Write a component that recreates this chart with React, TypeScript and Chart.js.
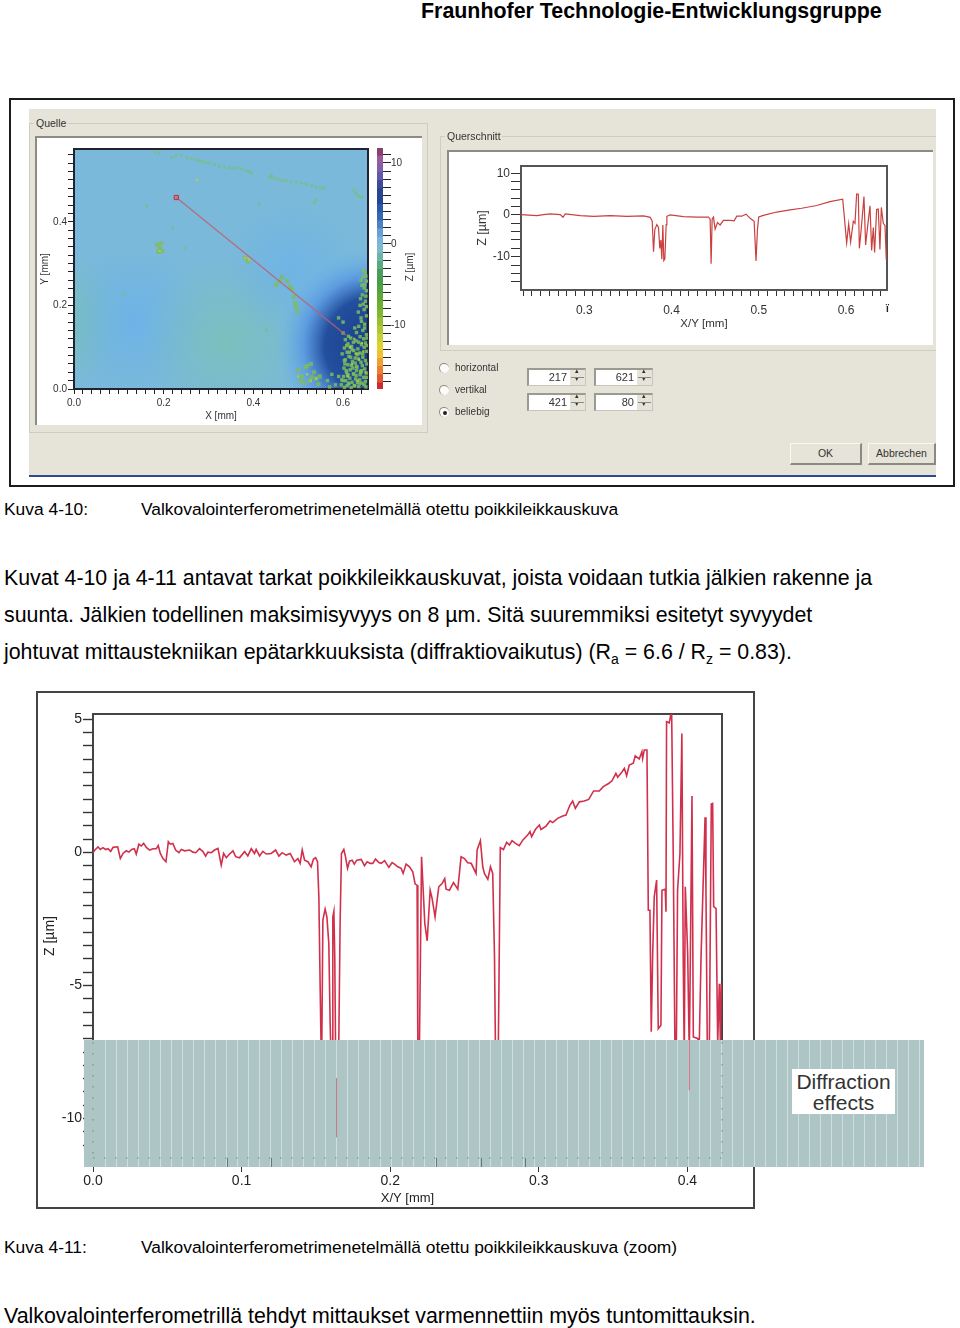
import React, { useEffect, useRef } from "react";
import { Chart, registerables } from "chart.js";

Chart.register(...registerables);

// Zoomed cross-section (Kuva 4-11)
const profileX = [0,.0016,.0034,.0049,.0067,.0085,.0101,.0119,.0135,.0166,.0184,.0202,.0224,.0242,.026,.0278,.0291,.0309,.0325,.0341,.0359,.0381,.0404,.0426,.0439,.0453,.0471,.0491,.0507,.052,.0538,.0556,.0578,.0594,.0617,.065,.0673,.0691,.0717,.074,.0758,.0773,.0796,.0818,.0841,.0863,.0879,.0897,.0919,.0942,.096,.0986,.102,.1042,.1065,.1087,.1098,.1121,.1143,.1166,.1199,.1229,.1251,.1273,.13,.1327,.1356,.1379,.1394,.1408,.1424,.1446,.1468,.1484,.1498,.1511,.152,.1529,.1538,.1547,.1562,.1574,.1587,.1596,.1603,.161,.1614,.1621,.1627,.1632,.1637,.1654,.1663,.1672,.1688,.1699,.1713,.1726,.1744,.1758,.1775,.1805,.1827,.1845,.1865,.1883,.1901,.1924,.1939,.1962,.1991,.2013,.2029,.2051,.2074,.2087,.2107,.213,.2152,.2168,.2181,.2186,.219,.2197,.2211,.222,.2233,.2249,.2269,.2282,.2302,.2327,.2349,.2367,.2376,.2399,.2426,.2455,.2477,.25,.2522,.2545,.2578,.2585,.2607,.2623,.2634,.2657,.2675,.269,.2702,.2708,.2717,.2728,.2741,.2762,.2784,.2802,.282,.2843,.2869,.2892,.2925,.2941,.2952,.2977,.3004,.3015,.3049,.3076,.3094,.3127,.3161,.3183,.321,.3228,.3246,.3273,.3306,.3336,.3369,.3407,.3434,.347,.3493,.3519,.3531,.3553,.3576,.3591,.3609,.3636,.3649,.3676,.3694,.3699,.371,.3728,.3737,.3748,.3757,.3766,.3777,.3793,.3804,.3822,.3829,.3851,.3856,.386,.3878,.3894,.3905,.3916,.3923,.3927,.3934,.395,.3963,.3972,.3979,.3986,.4002,.4013,.402,.4031,.404,.4069,.408,.4092,.4119,.4125,.4134,.4148,.4161,.417,.4177,.4193,.4204,.4215,.4222,.4228];
const profileZ = [0,.11,.21,.11,.18,.11,.14,.04,.19,.21,-.23,-.04,.06,.01,.11,.14,-.06,.31,.24,.34,.19,.09,.14,.14,.26,-.04,-.23,-.35,.4,.31,.34,.09,-.01,.11,.06,.09,.01,-.01,.14,.03,-.14,.01,-.01,.09,.15,-.48,-.04,-.2,-.06,.06,-.16,-.2,.03,-.13,.14,-.04,.11,-.13,.04,-.06,-.04,.09,-.14,-.01,-.1,-.04,-.35,-.23,-.41,.09,-.29,-.35,-.54,-.25,-.2,-.35,-1.67,-5.17,-8.4,-2.54,-2.13,-2.42,-3.42,-6.43,-8,-8,-2.42,-2.21,-3.92,-7.18,-10.7,-7.18,-2.67,-.04,.11,-.16,-.6,-.33,-.29,-.44,-.29,-.26,-.5,-.35,-.41,-.41,-.25,-.38,-.41,-.31,-.56,-.38,-.44,-.54,-.6,-.79,-.44,-.54,-.73,-1.19,-1.23,-7.18,-10,-7.18,-.16,-1.17,-2.67,-3.32,-1.42,-1.73,-2.42,-1.29,-1.17,-.98,-1.38,-1.42,-1.13,-1.38,-.16,-.23,-.39,-.41,-.79,.09,.44,-.54,-.79,-1.01,-.54,-.79,-3.92,-7.18,-10,-7.18,.18,.11,.38,.28,.44,.34,.25,.46,.65,.78,.59,.86,1.03,.86,.99,1.19,1.12,1.28,1.37,1.4,1.78,1.93,1.65,1.9,1.93,1.99,2.31,2.31,2.47,2.59,2.69,2.97,2.82,2.97,3.16,2.88,3.28,3.35,3.63,3.51,3.78,3.53,3.85,3.85,-2.17,-2.17,-6.74,-3.92,-1.67,-1.04,-6.62,-6.49,-1.42,-1.38,-2.23,4.91,4.87,5.35,-.16,-7.18,-8.5,-6.43,-1.42,-.04,4.47,-3.92,-7.7,-1.29,-3.8,-7.6,-3.92,2.12,-6.93,-6.99,-7.18,-3.92,1.32,-1.42,-7.18,-7.18,1.82,1.84,-2.04,-2.11,-7.18,-4.93,-7.18,-4.93];
// Parts of the trace that show faintly through the shaded band
const ghostX = [.1639,.1639,.3,.4013,.4013];
const ghostZ = [-8.48,-10.7,null,-7.05,-8.93];
const mainTickX = [0, .1, .2, .3, .4];

// Small cross-section (Kuva 4-10, Querschnitt)
const sectionX = [.2275,.2458,.2534,.2611,.2725,.2756,.2782,.2954,.3107,.3298,.3489,.3679,.3756,.3779,.3794,.3809,.3832,.3851,.3866,.3878,.3889,.3901,.3912,.3924,.3939,.3947,.3985,.4137,.429,.4424,.4443,.4454,.4466,.4481,.45,.4527,.4557,.4595,.4672,.4718,.4748,.4805,.4855,.4901,.4947,.4969,.4985,.5,.5053,.5206,.5359,.5492,.5664,.5817,.5962,.5981,.6,.6008,.6031,.6053,.6084,.6103,.6122,.6141,.6153,.6172,.6206,.6225,.6244,.6275,.6294,.6313,.6328,.6351,.637,.6389,.6405,.6427,.6447,.6462];
const sectionZ = [.08,-.16,.08,.24,.08,-.56,.24,-.16,-.32,-.16,-.32,-.24,-.56,-1.5,-8.8,-3.5,-2.3,-3,-8,-6,-10.6,-2.4,-10.9,-10.5,-2.3,-.32,0,-.4,-.5,-.5,-1,-11.7,-1,-.5,-3.4,-1.8,-2.4,-1.3,-1.3,-1.4,-.3,-.3,.2,-.8,-1.5,-11,-3.5,-.5,-.1,.7,1.2,1.6,2.26,3.2,3.8,-.4,-5,-6.7,-2.1,-6.5,-1.5,-2,5,5,-8,-4,4.4,-7.2,-3.5,2.2,-8.5,-3,-9,1.3,1.4,-8.3,1.8,-2,-2.5,-10.7];

// Surface map (Quelle): the measured line and the specks visible on it
const cutX = [.2282, .606];
const cutY = [.458, .129];
const streakX = [.18,.19,.218,.228,.24,.253,.263,.273,.28,.287,.295,.302,.313,.324,.335,.347,.355,.364,.374,.384,.39,.396,.436,.44,.442,.45,.458,.465,.473,.485,.496,.507,.518,.53,.54,.55,.558,.624,.628,.631,.637,.642,.536,.54,.413,.162,.109,.22,.247,.429];
const streakY = [.567,.565,.555,.558,.56,.553,.55,.548,.546,.543,.541,.541,.537,.533,.531,.529,.528,.529,.526,.522,.52,.517,.507,.512,.505,.503,.5,.499,.498,.496,.495,.492,.49,.486,.483,.482,.481,.476,.47,.464,.46,.459,.445,.452,.443,.438,.227,.385,.337,.141];
const blobX = [.191,.185,.197,.188,.194,.382,.388,.451,.458,.464,.475,.482,.487,.496,.49,.493,.498,.5,.508,.516,.525,.535,.545,.512,.53,.52,.505,.54,.528,.548];
const blobY = [.337,.345,.33,.328,.348,.313,.305,.249,.258,.268,.258,.245,.237,.196,.22,.205,.185,.045,.03,.052,.02,.04,.012,.015,.028,.055,.02,.025,.06,.03];
const massX = [.6,.59,.565,.575,.583,.59,.57,.645,.651,.64,.648,.652,.643,.65,.638,.647,.652,.64,.648,.635,.644,.652,.63,.638,.605,.617,.629,.646,.611,.623,.641,.65,.603,.619,.633,.647,.609,.624,.637,.652,.613,.631,.644,.605,.621,.634,.65,.611,.627,.643,.602,.616,.631,.648,.608,.623,.639,.652,.601,.615,.629,.646,.606,.62,.637,.65,.612,.625,.642,.603,.618,.635,.651,.649,.644,.652,.642,.647,.651,.639,.645,.652,.634,.641,.648,.653,.626,.635,.612,.6,.608,.62,.633,.653,.598,.614,.627,.64,.604,.617,.63,.644,.61,.622,.636,.653,.6,.613,.628,.641,.596,.607,.624,.638,.652,.609,.619,.632,.647,.597,.611,.626,.64,.603,.616,.63];
const massY = [.16,.17,.02,.035,.01,.03,.005,.285,.27,.26,.25,.235,.225,.21,.2,.19,.175,.17,.155,.15,.14,.13,.135,.125,.118,.122,.115,.12,.108,.112,.106,.11,.098,.102,.096,.1,.088,.092,.086,.09,.078,.082,.076,.07,.066,.072,.068,.058,.062,.056,.05,.046,.052,.048,.04,.036,.042,.038,.03,.026,.032,.028,.02,.016,.022,.018,.012,.008,.014,.004,.003,.006,.005,.278,.268,.258,.248,.242,.222,.216,.203,.197,.184,.162,.146,.122,.146,.112,.126,.134,.104,.094,.084,.104,.084,.088,.074,.064,.06,.076,.044,.084,.033,.05,.014,.06,.02,.014,.024,.044,.01,.044,.036,.034,.028,.008,.056,.016,.01,.022,.034,.008,.04,.068,.1,.054];
const yellowX = [.191,.382,.39,.274,.5,.52,.528,.54,.615,.628,.642,.62,.636,.65,.61,.632,.645,.625];
const yellowY = [.33,.313,.31,.5,.03,.035,.02,.025,.1,.085,.11,.06,.07,.04,.03,.02,.09,.12];

// Colour scale of the map: upper edge of each level and its colour
const levelTop = [12,11,10,9,8,7,6,5,4,3,2,1,0,-1,-2,-3,-4,-5,-6,-7,-8,-9,-10,-11,-12,-13,-14,-15,-16,-17];
const levelColor = ["#8a3f6e","#9a5a9e","#8060a8","#6058a8","#404a9c","#2c4490","#23459a","#2a59a8","#3468b4","#4a82c4","#6a9fd4","#7ab4dc","#7dbad0","#70b4a8","#5ea880","#4c9c60","#4a9c48","#55a040","#60a838","#6cb032","#80b830","#98c030","#b0c838","#c8d038","#e0d030","#f0c030","#eea030","#e88030","#e05a30","#d02c30"];

const sans = "'Liberation Sans', Arial, sans-serif";
const zip = (xs: number[], ys: (number | null)[]) => xs.map((x, i) => ({ x, y: ys[i] }));
const isMultiple = (v: number, step: number) => Math.abs(v / step - Math.round(v / step)) < 1e-6;

const axisFrame = (color: string, width: number) => ({
  id: "axisFrame",
  beforeDatasetsDraw(chart: any) {
    const { ctx, chartArea: a } = chart;
    ctx.save();
    ctx.strokeStyle = color;
    ctx.lineWidth = width;
    ctx.strokeRect(a.left, a.top, a.right - a.left, a.bottom - a.top);
    ctx.restore();
  },
});

const bandPlugin = {
  id: "band",
  beforeDatasetDraw(chart: any, args: any) {
    if (args.index !== 0) return;
    const { ctx, chartArea: a } = chart;
    const left = a.left - 9, right = a.left + 831, top = a.bottom - 118, bottom = a.bottom + 9;
    ctx.save();
    ctx.fillStyle = "#aec5c6";
    ctx.fillRect(left, top, right - left, bottom - top);
    ctx.fillStyle = "rgba(214,230,230,0.75)";
    for (let x = a.left + 12; x < right; x += 11) ctx.fillRect(x, top, 1, bottom - top);
    ctx.strokeStyle = "rgba(70,90,90,0.6)";
    ctx.setLineDash([1.5, 9.5]);
    ctx.beginPath();
    ctx.moveTo(left + 9, a.bottom); ctx.lineTo(a.right, a.bottom);
    ctx.moveTo(a.left, top + 2); ctx.lineTo(a.left, a.bottom);
    ctx.moveTo(a.right, top + 2); ctx.lineTo(a.right, a.bottom);
    ctx.stroke();
    ctx.setLineDash([]);
    ctx.fillStyle = "#5f7a7a";
    for (const off of [134, 178, 343, 388, 432]) ctx.fillRect(a.left + off, a.bottom, 1, 9);
    ctx.restore();
  },
};

const surfacePlugin = {
  id: "surface",
  beforeDatasetsDraw(chart: any) {
    const { ctx, chartArea: a } = chart;
    const w = a.right - a.left, h = a.bottom - a.top;
    const blob = (cx: number, cy: number, r: number, stops: [number, string][]) => {
      const g = ctx.createRadialGradient(a.left + cx * w, a.top + cy * h, 0, a.left + cx * w, a.top + cy * h, r);
      stops.forEach(([o, c]) => g.addColorStop(o, c));
      ctx.fillStyle = g;
      ctx.fillRect(a.left, a.top, w, h);
    };
    ctx.save();
    ctx.fillStyle = "#7ab9da";
    ctx.fillRect(a.left, a.top, w, h);
    blob(-0.04, 0.72, 65, [[0, "rgba(125,195,170,0.8)"], [1, "rgba(125,195,170,0)"]]);
    blob(0.2, 0.72, 75, [[0, "rgba(104,176,236,0.7)"], [1, "rgba(104,176,236,0)"]]);
    blob(0.52, 0.8, 85, [[0, "rgba(124,196,170,0.6)"], [1, "rgba(124,196,170,0)"]]);
    blob(0.74, 0.5, 65, [[0, "rgba(104,176,236,0.6)"], [1, "rgba(104,176,236,0)"]]);
    blob(1.02, 0.82, 98, [[0, "#193c88"], [0.5, "#234f9e"], [0.72, "rgba(88,150,225,0.85)"], [1, "rgba(108,180,235,0)"]]);
    ctx.restore();
  },
};

function useCharts(make: () => Chart[]) {
  useEffect(() => {
    const charts = make();
    return () => charts.forEach((c) => c.destroy());
  }, []);
}

const Abs = ({ x, y, w, h, style, children }: any) => (
  <div style={{ position: "absolute", left: x, top: y, width: w, height: h, boxSizing: "border-box", ...style }}>{children}</div>
);
const Text = ({ x, y, size, bold, style, children }: any) => (
  <div style={{ position: "absolute", left: x, top: y, fontFamily: sans, fontSize: size, fontWeight: bold ? 700 : 400, lineHeight: `${Math.round(size * 1.2)}px`, whiteSpace: "nowrap", color: "#000", ...style }}>{children}</div>
);
const Spin = ({ x, y, value }: any) => (
  <Abs x={x} y={y} w={59} h={18} style={{ background: "#fff", borderTop: "2px solid #9a9a92", borderLeft: "2px solid #9a9a92", borderRight: "1px solid #c8c6ba", borderBottom: "1px solid #c8c6ba" }}>
    <Text x={10} y={1} size={11} style={{ width: 28, textAlign: "right", color: "#333" }}>{value}</Text>
    <Abs x={41} y={0} w={15} h={15} style={{ background: "#e6e4d8" }}>
      <Text x={5} y={-3} size={7} style={{ color: "#333" }}>▴</Text>
      <Text x={5} y={5} size={7} style={{ color: "#333" }}>▾</Text>
      <Abs x={1} y={7} w={13} h={1} style={{ background: "#888" }} />
    </Abs>
  </Abs>
);
const Radio = ({ y, label, on }: any) => (
  <>
    <Abs x={439} y={y - 5} w={10} h={10} style={{ borderRadius: 5, background: "#fbfbf8", borderTop: "1px solid #8a8a82", borderLeft: "1px solid #8a8a82" }}>
      {on ? <Abs x={3} y={3} w={4} h={4} style={{ borderRadius: 2, background: "#222" }} /> : null}
    </Abs>
    <Text x={455} y={y - 6} size={10} style={{ color: "#333" }}>{label}</Text>
  </>
);
const Button = ({ x, w, label }: any) => (
  <Abs x={x} y={443} w={w} h={22} style={{ background: "#e6e4d8", borderTop: "1px solid #f8f8f2", borderLeft: "1px solid #f8f8f2", borderRight: "2px solid #8a8a82", borderBottom: "2px solid #8a8a82" }}>
    <Text x={0} y={3} size={10.5} style={{ width: w - 3, textAlign: "center", color: "#333" }}>{label}</Text>
  </Abs>
);
const canvasStyle = (x: number, y: number): React.CSSProperties => ({ position: "absolute", left: x, top: y });

export default function App() {
  const mainRef = useRef<HTMLCanvasElement>(null);
  const sectionRef = useRef<HTMLCanvasElement>(null);
  const mapRef = useRef<HTMLCanvasElement>(null);
  const barRef = useRef<HTMLCanvasElement>(null);

  useCharts(() => {
    document.body.style.margin = "0";
    const main = new Chart(mainRef.current!, {
      type: "line",
      data: {
        datasets: [
          { data: zip(ghostX, ghostZ), borderColor: "rgba(200,110,130,0.5)", borderWidth: 1, pointRadius: 0, spanGaps: false, clip: false as any },
          { data: zip(profileX, profileZ), borderColor: "#d1304c", borderWidth: 1.6, pointRadius: 0, tension: 0 },
        ],
      },
      options: {
        responsive: false, animation: false,
        plugins: { legend: { display: false }, tooltip: { enabled: false } },
        layout: { padding: { left: 0, top: 22, right: 208, bottom: 0 } },
        scales: {
          x: {
            type: "linear", min: 0, max: 0.4233,
            afterFit: (s: any) => { s.height = 48; },
            afterBuildTicks: (s: any) => { s.ticks = mainTickX.map((value) => ({ value })); },
            border: { display: false },
            grid: { drawOnChartArea: false, tickLength: 14, tickColor: "#333", tickWidth: 1 },
            ticks: { maxRotation: 0, padding: 1, color: "#222", font: { family: sans, size: 14 }, callback: (v: any) => Number(v).toFixed(1) },
            title: { display: true, text: "X/Y [mm]", color: "#222", font: { family: sans, size: 13 }, padding: { top: 0, bottom: 0 } },
          },
          y: {
            min: -11.48, max: 5.2,
            afterFit: (s: any) => { s.width = 56; },
            border: { display: false },
            grid: { drawOnChartArea: false, tickLength: 10, tickColor: "#333", tickWidth: 1.4 },
            ticks: { stepSize: 0.5, includeBounds: false, autoSkip: false, padding: 1, color: "#222", font: { family: sans, size: 14 }, callback: (v: any) => (isMultiple(Number(v), 5) ? String(Number(v)) : "") },
            title: { display: true, text: "Z [µm]", color: "#222", font: { family: sans, size: 14 }, padding: { top: 5, bottom: 0 } },
          },
        },
      },
      plugins: [axisFrame("#444", 2), bandPlugin],
    } as any);

    const section = new Chart(sectionRef.current!, {
      type: "line",
      data: { datasets: [{ data: zip(sectionX, sectionZ), borderColor: "#c9403f", borderWidth: 1.2, pointRadius: 0, tension: 0 }] },
      options: {
        responsive: false, animation: false,
        plugins: { legend: { display: false }, tooltip: { enabled: false } },
        layout: { padding: { left: 0, top: 16, right: 44, bottom: 0 } },
        scales: {
          x: {
            type: "linear", min: 0.2275, max: 0.647,
            afterFit: (s: any) => { s.height = 41; },
            border: { display: false },
            grid: { drawOnChartArea: false, tickLength: 6, tickColor: "#333", tickWidth: 1 },
            ticks: { stepSize: 0.01, includeBounds: false, autoSkip: false, maxRotation: 0, padding: 7, color: "#333", font: { family: sans, size: 12 }, callback: (v: any) => (isMultiple(Number(v), 0.1) ? Number(v).toFixed(1) : "") },
            title: { display: true, text: "X/Y [mm]", color: "#333", font: { family: sans, size: 11.5 }, padding: { top: 0, bottom: 0 } },
          },
          y: {
            min: -17.98, max: 11.73,
            afterFit: (s: any) => { s.width = 51; },
            border: { display: false },
            grid: { drawOnChartArea: false, tickLength: 10, tickColor: "#333", tickWidth: 1 },
            ticks: { stepSize: 2, includeBounds: false, autoSkip: false, padding: 1, color: "#333", font: { family: sans, size: 12 }, callback: (v: any) => (isMultiple(Number(v), 10) ? String(Number(v)) : "") },
            title: { display: true, text: "Z [µm]", color: "#333", font: { family: sans, size: 12.5 }, padding: { top: 5, bottom: 0 } },
          },
        },
      },
      plugins: [axisFrame("#555", 2)],
    } as any);

    const map = new Chart(mapRef.current!, {
      type: "scatter",
      data: {
        datasets: [
          { type: "line", data: zip(cutX, cutY), borderColor: "rgba(190,95,110,0.85)", borderWidth: 1.3, pointRadius: [3, 0], pointStyle: "rect", pointBackgroundColor: "rgba(220,90,100,0.55)", pointBorderColor: "#c43040", pointBorderWidth: 1 },
          { data: zip(yellowX, yellowY), backgroundColor: "rgba(190,205,60,0.85)", pointStyle: "rect", pointRadius: 1.6, borderWidth: 0 },
          { data: zip(blobX, blobY), backgroundColor: "rgba(125,190,85,0.75)", pointStyle: "rect", pointRadius: 3, borderWidth: 0 },
          { data: zip(massX, massY), backgroundColor: "rgba(125,190,90,0.85)", pointStyle: "rect", pointRadius: 2.4, borderWidth: 0 },
          { data: zip(streakX, streakY), backgroundColor: "rgba(120,190,130,0.8)", pointStyle: "rect", pointRadius: 2, borderWidth: 0 },
        ],
      },
      options: {
        responsive: false, animation: false,
        plugins: { legend: { display: false }, tooltip: { enabled: false } },
        layout: { padding: { left: 0, top: 12, right: 0, bottom: 0 } },
        scales: {
          x: {
            type: "linear", min: 0, max: 0.6556,
            afterFit: (s: any) => { s.height = 33; },
            border: { display: false },
            grid: { drawOnChartArea: false, tickLength: 5, tickColor: "#222", tickWidth: 1 },
            ticks: { stepSize: 0.02, includeBounds: false, autoSkip: false, maxRotation: 0, padding: 3, color: "#333", font: { family: sans, size: 10 }, callback: (v: any) => (isMultiple(Number(v), 0.2) ? Number(v).toFixed(1) : "") },
            title: { display: true, text: "X [mm]", color: "#333", font: { family: sans, size: 10 }, padding: { top: 0, bottom: 0 } },
          },
          y: {
            min: 0, max: 0.574,
            afterFit: (s: any) => { s.width = 36; },
            border: { display: false },
            grid: { drawOnChartArea: false, tickLength: 6, tickColor: "#222", tickWidth: 1 },
            ticks: { stepSize: 0.02, includeBounds: false, autoSkip: false, padding: 1, color: "#333", font: { family: sans, size: 10 }, callback: (v: any) => (isMultiple(Number(v), 0.2) ? Number(v).toFixed(1) : "") },
            title: { display: true, text: "Y [mm]", color: "#333", font: { family: sans, size: 10 }, padding: { top: 1, bottom: 0 } },
          },
        },
      },
      plugins: [surfacePlugin, axisFrame("#223", 2)],
    } as any);

    const bar = new Chart(barRef.current!, {
      type: "bar",
      data: {
        labels: ["Z"],
        datasets: levelTop.map((top, i) => ({ data: [[top - 1.05, top]], backgroundColor: levelColor[i], borderWidth: 0, barPercentage: 1, categoryPercentage: 1, grouped: false })),
      },
      options: {
        responsive: false, animation: false,
        plugins: { legend: { display: false }, tooltip: { enabled: false } },
        layout: { padding: { left: 7, top: 11, right: 0, bottom: 10 } },
        scales: {
          x: { display: false },
          y: {
            position: "right", min: -17.9, max: 11.85,
            afterFit: (s: any) => { s.width = 37; },
            border: { display: false },
            grid: { drawOnChartArea: false, tickLength: 8, tickColor: "#222", tickWidth: 1 },
            ticks: { stepSize: 1, includeBounds: false, autoSkip: false, padding: 0, color: "#333", font: { family: sans, size: 10 }, callback: (v: any) => (isMultiple(Number(v), 10) ? String(Number(v)) : "") },
          },
        },
      },
    } as any);
    return [main, section, map, bar];
  });

  return (
    <div style={{ position: "relative", width: 960, height: 1328, overflow: "hidden", background: "#fff" }}>
      <Text x={421} y={-2} size={21.4} bold>Fraunhofer Technologie-Entwicklungsgruppe</Text>

      <Abs x={9} y={98} w={946} h={389} style={{ border: "2px solid #1c1c1c", background: "#fff" }} />
      <div style={{ position: "absolute", left: 0, top: 0, width: 960, height: 490, filter: "blur(0.45px)" }}>
        <Abs x={29} y={109} w={907} h={366} style={{ background: "#e6e4d8" }} />
        <Abs x={29} y={475} w={907} h={2} style={{ background: "#2b4a90" }} />

        <Abs x={29} y={123} w={399} h={310} style={{ border: "1px solid #cfcdc0" }} />
        <Abs x={35} y={136} w={387} h={289} style={{ background: "#fff", borderTop: "2px solid #8c8c84", borderLeft: "2px solid #8c8c84" }} />
        <Abs x={34} y={116} w={34} h={14} style={{ background: "#e6e4d8" }} />
        <Text x={36} y={117} size={10.5} style={{ color: "#333" }}>Quelle</Text>
        <canvas ref={mapRef} width={335} height={285} style={canvasStyle(38, 137)} />
        <canvas ref={barRef} width={50} height={262} style={canvasStyle(370, 137)} />
        <Text x={396} y={261} size={10} style={{ color: "#333", transform: "rotate(-90deg)" }}>Z [µm]</Text>

        <Abs x={440} y={136} w={496} h={215} style={{ borderTop: "1px solid #cfcdc0", borderLeft: "1px solid #cfcdc0", borderBottom: "1px solid #cfcdc0" }} />
        <Abs x={447} y={150} w={486} h={195} style={{ background: "#fff", borderTop: "2px solid #8c8c84", borderLeft: "2px solid #8c8c84" }} />
        <Abs x={445} y={129} w={57} h={14} style={{ background: "#e6e4d8" }} />
        <Text x={447} y={130} size={10.5} style={{ color: "#333" }}>Querschnitt</Text>
        <canvas ref={sectionRef} width={461} height={181} style={canvasStyle(470, 150)} />
        <Text x={886} y={303} size={10} bold style={{ color: "#222" }}>ï</Text>

        <Radio y={368} label="horizontal" />
        <Radio y={390} label="vertikal" />
        <Radio y={412} label="beliebig" on />
        <Spin x={527} y={368} value="217" />
        <Spin x={594} y={368} value="621" />
        <Spin x={527} y={393} value="421" />
        <Spin x={594} y={393} value="80" />
        <Button x={790} w={72} label="OK" />
        <Button x={868} w={68} label="Abbrechen" />
      </div>

      <Text x={4} y={499} size={17.4}>Kuva 4-10:</Text>
      <Text x={141} y={499} size={17.4}>Valkovalointerferometrimenetelmällä otettu poikkileikkauskuva</Text>

      <Text x={4} y={565} size={21.35}>Kuvat 4-10 ja 4-11 antavat tarkat poikkileikkauskuvat, joista voidaan tutkia jälkien rakenne ja</Text>
      <Text x={4} y={602} size={21.35}>suunta. Jälkien todellinen maksimisyvyys on 8 µm. Sitä suuremmiksi esitetyt syvyydet</Text>
      <Text x={4} y={639} size={21.35}>johtuvat mittaustekniikan epätarkkuuksista (diffraktiovaikutus) (R<sub style={{ fontSize: 14, lineHeight: 0 }}>a</sub> = 6.6 / R<sub style={{ fontSize: 14, lineHeight: 0 }}>z</sub> = 0.83).</Text>

      <Abs x={36} y={691} w={719} h={518} style={{ border: "2px solid #444", background: "#fff", filter: "blur(0.3px)" }} />
      <canvas ref={mainRef} width={893} height={514} style={{ ...canvasStyle(37, 692), filter: "blur(0.3px)" }} />
      <Abs x={792} y={1069} w={103} h={45} style={{ background: "#fff" }}>
        <Text x={0} y={2} size={21} style={{ width: 103, textAlign: "center", color: "#333", lineHeight: "21px" }}>Diffraction<br />effects</Text>
      </Abs>

      <Text x={4} y={1237} size={17.4}>Kuva 4-11:</Text>
      <Text x={141} y={1237} size={17.4}>Valkovalointerferometrimenetelmällä otettu poikkileikkauskuva (zoom)</Text>
      <Text x={4} y={1303} size={21.35}>Valkovalointerferometrillä tehdyt mittaukset varmennettiin myös tuntomittauksin.</Text>
    </div>
  );
}
